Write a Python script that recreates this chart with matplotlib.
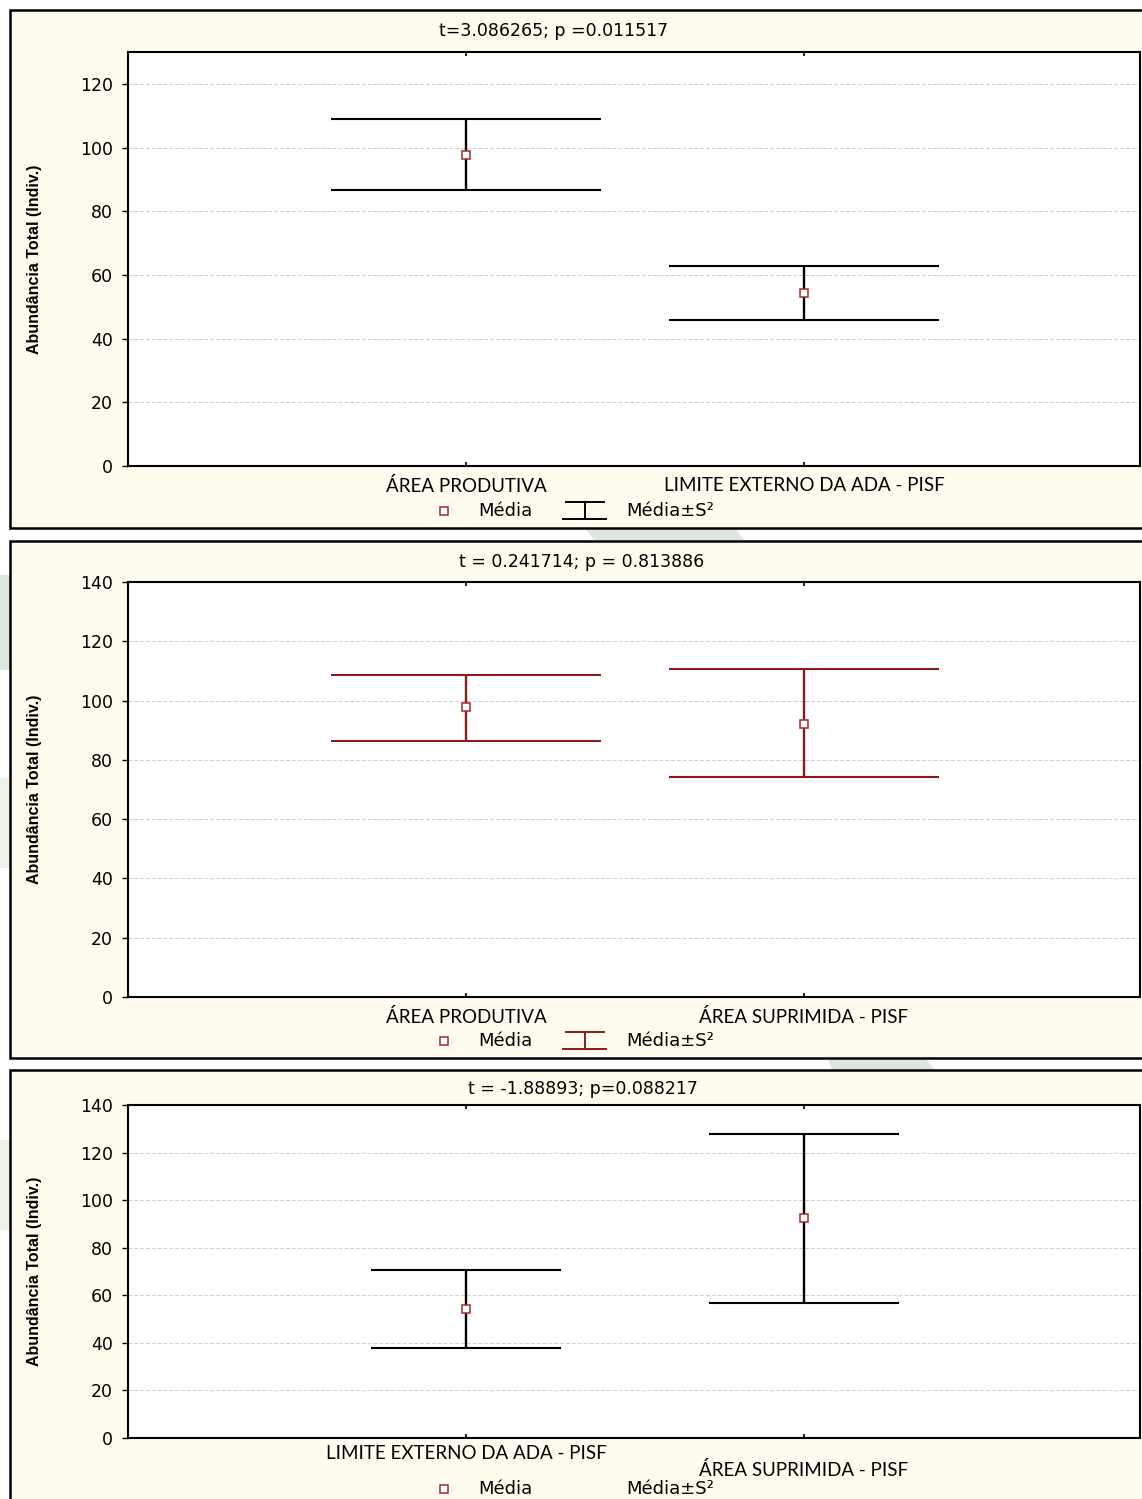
import matplotlib
matplotlib.use("Agg")
import matplotlib.pyplot as plt
from matplotlib.patches import Rectangle, Polygon
from matplotlib.transforms import ScaledTranslation

# -- Data ----------------------------------------------------------------------
TITLES = [
    "t=3.086265; p =0.011517",
    "t = 0.241714; p = 0.813886",
    "t = -1.88893; p=0.088217",
]
GROUPS = [
    ["ÁREA PRODUTIVA", "LIMITE EXTERNO DA ADA - PISF"],
    ["ÁREA PRODUTIVA", "ÁREA SUPRIMIDA - PISF"],
    ["LIMITE EXTERNO DA ADA - PISF", "ÁREA SUPRIMIDA - PISF"],
]
MEANS = [[97.7, 54.3], [97.8, 92.1], [54.2, 92.5]]
UPPER = [[109.0, 62.8], [108.6, 110.7], [70.6, 127.8]]
LOWER = [[86.7, 45.9], [86.4, 74.2], [37.8, 56.7]]
YMAX = [130, 140, 140]
YTICKS = [list(range(0, 121, 20)), list(range(0, 141, 20)), list(range(0, 141, 20))]

# -- Layout (pixels) -----------------------------------------------------------
W, H = 1142, 1499
CREAM = "#FFFBEF"
LINE_COLORS = ["black", "#8B1A1A", "black"]
MARK_EDGE = "#A52A2A"
BOXES = [(10, 528), (541, 1058), (1070, 1515)]
AXES_Y = [(52, 466), (582, 997), (1105, 1438)]
TITLE_Y = [31, 562, 1089]
TITLE_X = [554, 582, 583]
LEGEND_Y = [511, 1041, 1489]
CAP_HALF = [0.40, 0.40, 0.28]
SHOW_GLYPH = [True, True, False]
XPAD = [8, 8, 5]
AX_L, AX_R = 128, 1140

fig = plt.figure(figsize=(W / 100, H / 100), dpi=100)
fig.patch.set_facecolor("white")

bg = fig.add_axes([0, 0, 1, 1], zorder=0)
bg.set_xlim(0, W)
bg.set_ylim(H, 0)
bg.axis("off")

# faint green watermark shapes peeking through the gaps
for pts, col in [
    ([(0, 575), (10, 575), (10, 670), (0, 670)], "#DDE7DD"),
    ([(0, 778), (10, 778), (10, 868), (0, 868)], "#EEF3E6"),
    ([(585, 528), (735, 528), (745, 541), (595, 541)], "#DDE7DD"),
    ([(828, 1058), (925, 1058), (935, 1070), (832, 1070)], "#DDE7DD"),
    ([(0, 1140), (10, 1140), (10, 1230), (0, 1230)], "#EEF3E6"),
]:
    bg.add_patch(Polygon(pts, closed=True, facecolor=col, edgecolor="none"))

for i in range(3):
    top, bot = BOXES[i]
    bg.add_patch(Rectangle((10, top), W + 20, bot - top, facecolor=CREAM,
                           edgecolor="black", linewidth=1.8))

    # title
    bg.text(TITLE_X[i], TITLE_Y[i], TITLES[i], ha="center", va="center",
            fontsize=12.5, family="DejaVu Sans")

    # legend
    ly = LEGEND_Y[i]
    bg.plot([444], [ly], marker="s", markersize=5.5, markerfacecolor="white",
            markeredgecolor=MARK_EDGE, markeredgewidth=1.1, linestyle="none")
    bg.text(478, ly, "Média", ha="left", va="center", fontsize=13,
            family="DejaVu Sans")
    if SHOW_GLYPH[i]:
        c = LINE_COLORS[i]
        bg.plot([566, 604], [ly - 9, ly - 9], color=c, lw=1.4)
        bg.plot([585, 585], [ly - 9, ly + 8], color=c, lw=1.4)
        bg.plot([563, 606], [ly + 8, ly + 8], color=c, lw=1.4)
    bg.text(626, ly, "Média±S²", ha="left", va="center", fontsize=13,
            family="DejaVu Sans")

    # chart axes
    at, ab = AXES_Y[i]
    ax = fig.add_axes([AX_L / W, 1 - ab / H, (AX_R - AX_L) / W, (ab - at) / H],
                      zorder=1)
    ax.set_facecolor("white")
    xs = [1, 2]
    c = LINE_COLORS[i]
    ax.vlines(xs, LOWER[i], UPPER[i], color=c, lw=1.7, zorder=3)
    ax.hlines(UPPER[i], [x - CAP_HALF[i] for x in xs], [x + CAP_HALF[i] for x in xs],
              color=c, lw=1.5, zorder=3)
    ax.hlines(LOWER[i], [x - CAP_HALF[i] for x in xs], [x + CAP_HALF[i] for x in xs],
              color=c, lw=1.5, zorder=3)
    ax.plot(xs, MEANS[i], marker="s", markersize=5.5, markerfacecolor="white",
            markeredgecolor=MARK_EDGE, markeredgewidth=1.1, linestyle="none",
            zorder=4)

    ax.set_xlim(0, 2.994)
    ax.set_ylim(0, YMAX[i])
    ax.set_yticks(YTICKS[i])
    ax.set_yticklabels([str(v) for v in YTICKS[i]], fontsize=12.5,
                       family="DejaVu Sans")
    ax.set_xticks(xs)
    ax.set_xticklabels(GROUPS[i], fontsize=13.5, family="Lato")
    ax.yaxis.grid(True, linestyle=(0, (4, 2)), color="#CFCFCF", lw=0.7)
    ax.set_axisbelow(True)
    ax.tick_params(axis="y", direction="out", length=4, width=1, pad=7)
    ax.tick_params(axis="x", direction="in", length=3, width=1.2, pad=XPAD[i],
                   top=True)
    for s in ax.spines.values():
        s.set_linewidth(1.5)
    ax.set_ylabel("Abundância Total (Indiv.)", fontsize=11.5, fontweight="bold",
                  family=["Liberation Sans Narrow", "Liberation Sans"])
    ax.yaxis.set_label_coords((42 - AX_L) / (AX_R - AX_L), 0.5)

    if i == 2:
        lab = ax.get_xticklabels()[1]
        lab.set_transform(lab.get_transform()
                          + ScaledTranslation(0, -16 / 100, fig.dpi_scale_trans))

fig.savefig("out.png", dpi=100, facecolor=fig.get_facecolor())
